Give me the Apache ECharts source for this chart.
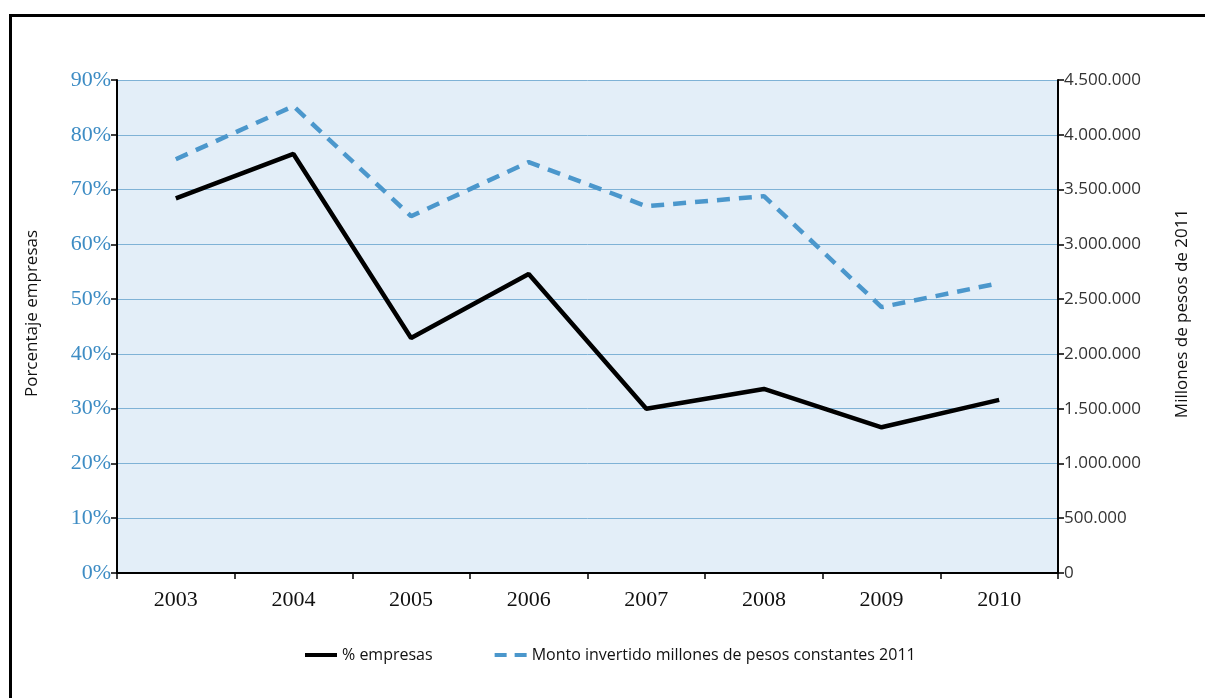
<!DOCTYPE html>
<html><head><meta charset="utf-8">
<script src="https://cdn.jsdelivr.net/npm/echarts@6/dist/echarts.min.js"></script>
<style>html,body{margin:0;padding:0;background:#fff}#c{width:1205px;height:698px}</style>
</head><body><div id="c"></div>
<script>
const years = ['2003','2004','2005','2006','2007','2008','2009','2010'];
const pctEmpresas = [68.4, 76.5, 42.9, 54.6, 30.0, 33.6, 26.6, 31.6];
const montoInvertido = [3777000, 4261000, 3257000, 3750000, 3348000, 3440000, 2427000, 2646000];
const leftTicks = {min:0, max:90, interval:10};
const rightTicks = {min:0, max:4500000, interval:500000};

const chart = echarts.init(document.getElementById('c'));
function fmtDots(v){ return String(v).replace(/\B(?=(\d{3})+(?!\d))/g,'.'); }
chart.setOption({
  animation:false,
  graphic:[{type:'rect', shape:{x:10.5,y:15.5,width:1210,height:700}, style:{fill:'none',stroke:'#000',lineWidth:3}, z:100}],
  grid:{left:117, right:147, top:80, bottom:125, show:true, backgroundColor:'#e3eef8', borderWidth:0},
  legend:{bottom:30, left:300, itemGap:62, itemWidth:32, itemHeight:4,
    textStyle:{fontFamily:'Open Sans', fontSize:16, color:'#111'},
    data:[
      {name:'% empresas', icon:'rect'},
      {name:'Monto invertido millones de pesos constantes 2011', icon:'path://M0,0h12v4h-12z M20,0h12v4h-12z'}
    ]},
  xAxis:{type:'category', data:years, boundaryGap:true,
    axisLine:{lineStyle:{color:'#000', width:2}},
    axisTick:{show:true, length:6, lineStyle:{color:'#000', width:1.5}},
    axisLabel:{fontFamily:'Liberation Serif', fontSize:22, color:'#111', margin:16}},
  yAxis:[
    {type:'value', min:leftTicks.min, max:leftTicks.max, interval:leftTicks.interval,
      name:'Porcentaje empresas', nameLocation:'middle', nameGap:76, nameRotate:90,
      nameTextStyle:{fontFamily:'Open Sans', fontSize:17, color:'#111', padding:[0,0,0,26]},
      axisLine:{show:true, lineStyle:{color:'#000', width:2}},
      axisTick:{show:true, length:6, lineStyle:{color:'#000', width:1.5}},
      axisLabel:{formatter:'{value}%', fontFamily:'Liberation Serif', fontSize:22, color:'#3d8cc4', margin:6},
      splitLine:{show:true, lineStyle:{color:'#7fb2d6', width:1}}},
    {type:'value', min:rightTicks.min, max:rightTicks.max, interval:rightTicks.interval, position:'right',
      name:'Millones de pesos de 2011', nameLocation:'middle', nameGap:116, nameRotate:90,
      nameTextStyle:{fontFamily:'Open Sans', fontSize:17, color:'#111', padding:[0,0,0,26]},
      axisLine:{show:true, lineStyle:{color:'#000', width:2}},
      axisTick:{show:true, length:6, lineStyle:{color:'#000', width:1.5}},
      axisLabel:{formatter:fmtDots, fontFamily:'Open Sans', fontSize:17, color:'#333', margin:6},
      splitLine:{show:false}}
  ],
  series:[
    {name:'% empresas', type:'line', yAxisIndex:0, data:pctEmpresas, showSymbol:false, symbol:'none',
      itemStyle:{color:'#000'}, lineStyle:{color:'#000', width:4.5}},
    {name:'Monto invertido millones de pesos constantes 2011', type:'line', yAxisIndex:1, data:montoInvertido,
      showSymbol:false, symbol:'none', itemStyle:{color:'#4b97cc'},
      lineStyle:{color:'#4b97cc', width:4.5, type:[13,9]}}
  ]
});
</script></body></html>
